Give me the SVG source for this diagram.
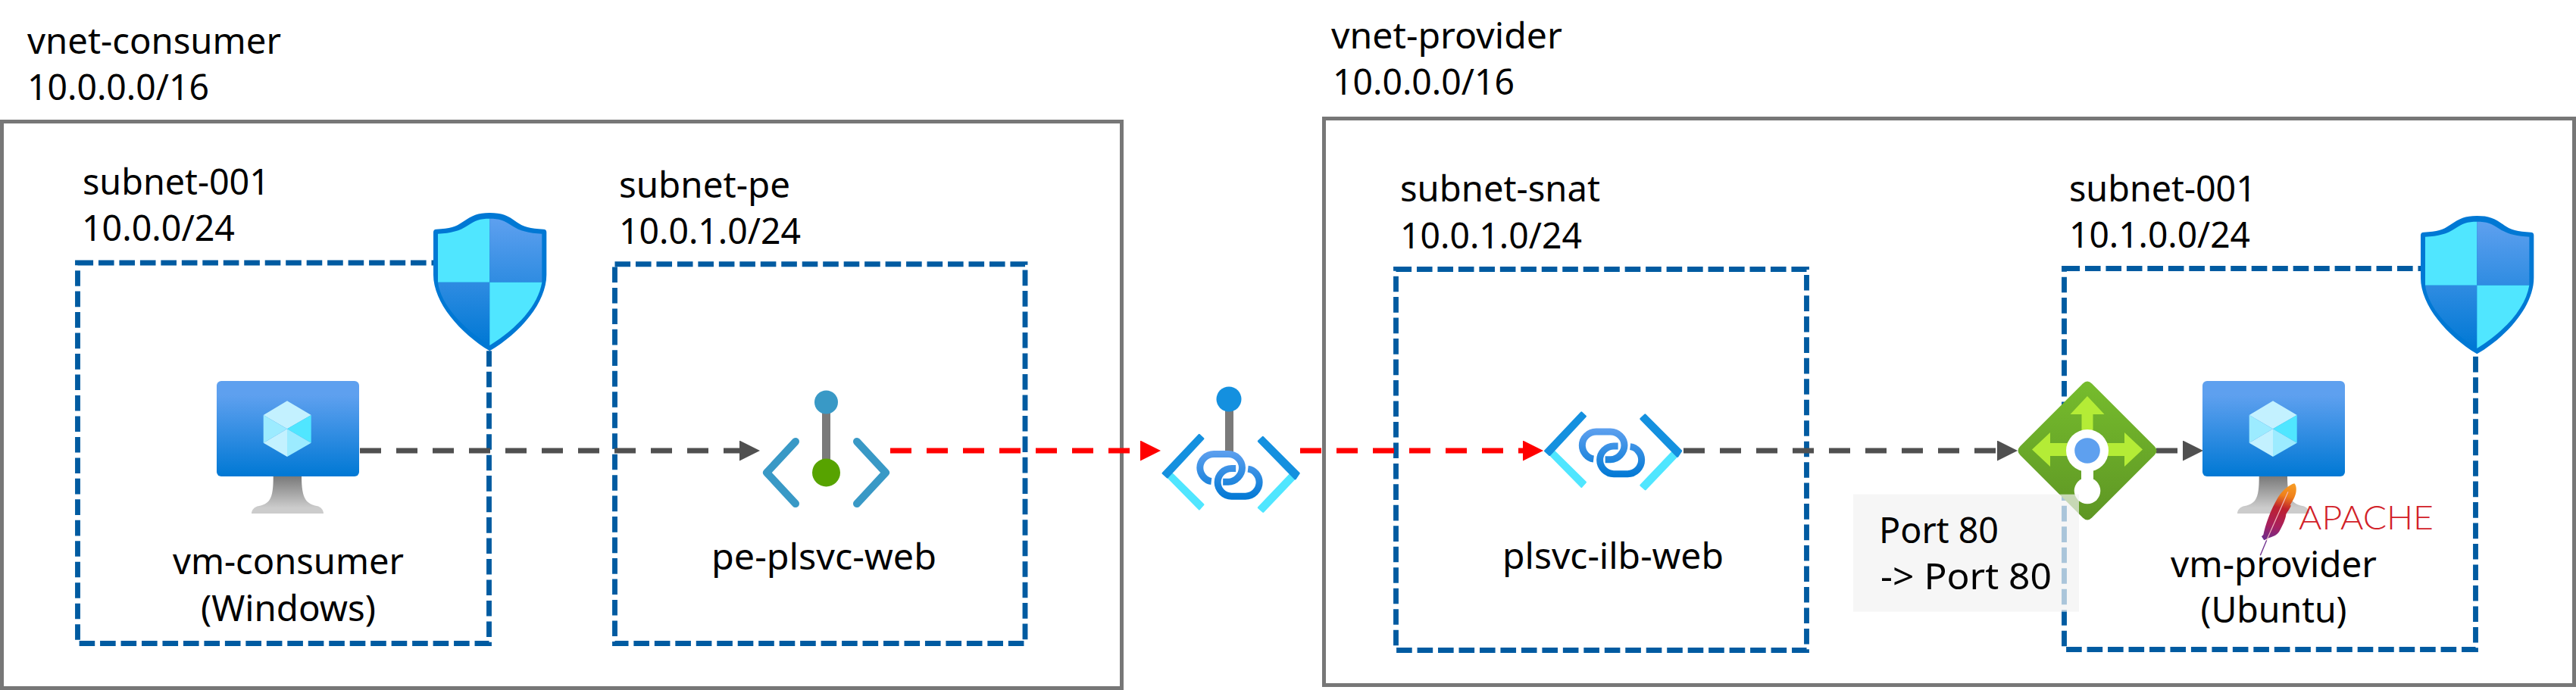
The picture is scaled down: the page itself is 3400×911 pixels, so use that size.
<svg xmlns="http://www.w3.org/2000/svg" width="3400" height="911" viewBox="0 0 3400 911">
<style>
text{font-family:"Noto Sans","Open Sans","Liberation Sans",sans-serif;font-size:47px;fill:#000}
.vnet{fill:none;stroke:#777;stroke-width:5}
.subnet{fill:none;stroke:#005ba1;stroke-width:6.87;stroke-dasharray:20.6 6.87}
.gray{fill:none;stroke:#505050;stroke-width:7;stroke-dasharray:28 20}
.red{fill:none;stroke:#f00;stroke-width:7;stroke-dasharray:28 20}
.apache{font-family:Lato,"Noto Sans",sans-serif;font-weight:300;font-size:44px;fill:#d22128}
</style>
<defs>
<marker id="hg" markerUnits="userSpaceOnUse" markerWidth="27" markerHeight="27" viewBox="0 0 27 27" refX="0" refY="13.5" orient="auto"><path d="M0 0L27 13.5L0 27Z" fill="#505050"/></marker>
<marker id="hr" markerUnits="userSpaceOnUse" markerWidth="27" markerHeight="27" viewBox="0 0 27 27" refX="0" refY="13.5" orient="auto"><path d="M0 0L27 13.5L0 27Z" fill="#f00"/></marker>
<linearGradient id="gScreen" x1="0" y1="0" x2="0" y2="1"><stop offset="0.15" stop-color="#5ea0ef"/><stop offset="1" stop-color="#0078d4"/></linearGradient>
<linearGradient id="gStand" x1="0" y1="0" x2="0" y2="1"><stop offset="0" stop-color="#7a7a7a"/><stop offset="0.85" stop-color="#cccccc"/></linearGradient>
<linearGradient id="gShield" gradientUnits="userSpaceOnUse" x1="0" y1="518" x2="0" y2="1020"><stop offset="0" stop-color="#5ea0ef"/><stop offset="1" stop-color="#0078d4"/></linearGradient>
<linearGradient id="gChain" gradientUnits="userSpaceOnUse" x1="0" y1="257" x2="0" y2="450"><stop offset="0" stop-color="#5ea0ef"/><stop offset="1" stop-color="#0078d4"/></linearGradient>
<linearGradient id="gLb" x1="0" y1="0" x2="0" y2="1"><stop offset="0" stop-color="#76bc2d"/><stop offset="1" stop-color="#5e9624"/></linearGradient>
<linearGradient id="gFeather" gradientUnits="userSpaceOnUse" x1="340" y1="535" x2="290" y2="760"><stop offset="0" stop-color="#f69923"/><stop offset="0.2" stop-color="#ef7f1a"/><stop offset="0.42" stop-color="#be202e"/><stop offset="0.75" stop-color="#a8205f"/><stop offset="1" stop-color="#6d2d8c"/></linearGradient>
<g id="vmIcon">
<path d="M74.7 126H112C112 157 119 162 132 165C138 166 141 171 141 175H46C46 171 49 166 56 165C69 162 75 157 74.7 126Z" fill="url(#gStand)"/>
<rect x="0" y="0" width="188" height="126" rx="6" fill="url(#gScreen)"/>
<path d="M93 26.3L124.7 45L93 63.3L61.7 45Z" fill="#c3f1ff"/>
<path d="M93 63.3L124.7 45V81.7Z" fill="#50e6ff"/>
<path d="M93 63.3L61.7 45V81.7Z" fill="#9cebff"/>
<path d="M93 63.3L61.7 81.7L93 100Z" fill="#c3f1ff"/>
<path d="M93 63.3L124.7 81.7L93 100Z" fill="#9cebff"/>
</g>
<g id="shieldIcon">
<path d="M135 572Q135 560 147 560C200 558 225 550 250 532C290 505 310 495 358 495C406 495 430 505 465 532C490 550 520 558 571 560Q583 560 583 572L583 740C583 850 480 970 358 1042C240 970 135 850 135 740Z" fill="#0078d4"/>
<path d="M153 770L153 578C205 576 240 566 270 546C300 525 320 518 358 518L358 770Z" fill="#50e6ff"/>
<path d="M565 770L565 578C513 576 476 566 446 546C416 525 396 518 358 518L358 770Z" fill="url(#gShield)"/>
<path d="M153 770L358 770L358 1020C250 950 165 860 153 770Z" fill="url(#gShield)"/>
<path d="M358 770L565 770C550 860 470 950 358 1020Z" fill="#50e6ff"/>
</g>
<g id="plsIcon">
<path d="M258 362L274 348L398 470L382 488Z M745 348L762 365L635 498L617 482Z" fill="#50e6ff" stroke="#50e6ff" stroke-width="8" stroke-linejoin="round"/>
<path d="M238 346L382 194L398 209L256 362Z M777 346L634 203L617 219L762 368Z" fill="#1490df" stroke="#1490df" stroke-width="8" stroke-linejoin="round"/>
<path d="M430 378C405 375 385 350 385 324C385 295 410 270 440 270L497 270C527 270 552 295 552 324C552 352 527 380 497 380L476 380" fill="none" stroke="url(#gChain)" stroke-width="27"/>
<path d="M575 329C600 332 620 355 620 382C620 412 595 437 565 437L510 437C480 437 455 412 455 382C455 352 480 327 510 327L527 327" fill="none" stroke="url(#gChain)" stroke-width="27"/>
</g>
</defs>

<rect width="3400" height="911" fill="#fff"/>

<g id="vnet-consumer">
<rect class="vnet" x="2.5" y="160.5" width="1478" height="748"/>
<text x="36" y="71" textLength="335" lengthAdjust="spacingAndGlyphs">vnet-consumer</text>
<text x="36" y="132" textLength="240" lengthAdjust="spacingAndGlyphs">10.0.0.0/16</text>
</g>
<g id="vnet-provider">
<rect class="vnet" x="1747.5" y="156.5" width="1650" height="748"/>
<text x="1757" y="64" textLength="305" lengthAdjust="spacingAndGlyphs">vnet-provider</text>
<text x="1759" y="125" textLength="240" lengthAdjust="spacingAndGlyphs">10.0.0.0/16</text>
</g>
<g id="subnet-001-consumer">
<path class="subnet" d="M102.5 347H645.5V849.5H102.5Z"/>
<text x="109" y="257" textLength="247" lengthAdjust="spacingAndGlyphs">subnet-001</text>
<text x="108" y="318" textLength="202" lengthAdjust="spacingAndGlyphs">10.0.0/24</text>
</g>
<g id="subnet-pe">
<path class="subnet" d="M811.5 348.7H1353V849.5H811.5Z"/>
<text x="817" y="261" textLength="226" lengthAdjust="spacingAndGlyphs">subnet-pe</text>
<text x="817" y="322" textLength="240" lengthAdjust="spacingAndGlyphs">10.0.1.0/24</text>
</g>
<g id="subnet-snat">
<path class="subnet" d="M1842.5 355.5H2384.5V858.5H1842.5Z"/>
<text x="1848" y="266" textLength="264" lengthAdjust="spacingAndGlyphs">subnet-snat</text>
<text x="1848" y="328" textLength="240" lengthAdjust="spacingAndGlyphs">10.0.1.0/24</text>
</g>
<g id="subnet-001-provider">
<path class="subnet" d="M2724.5 354.5H3267.5V857.5H2724.5Z"/>
<text x="2731" y="266" textLength="247" lengthAdjust="spacingAndGlyphs">subnet-001</text>
<text x="2731" y="327" textLength="239" lengthAdjust="spacingAndGlyphs">10.1.0.0/24</text>
</g>

<g id="connectors">
<path class="gray" d="M475 595H976" marker-end="url(#hg)"/>
<path class="red" d="M1175 595H1505" marker-end="url(#hr)"/>
<path class="red" d="M1716 595H2010" marker-end="url(#hr)"/>
<path class="gray" d="M2222 595H2636" marker-end="url(#hg)"/>
<path class="gray" d="M2846 595H2881" marker-end="url(#hg)"/>
</g>

<g id="nsg-consumer"><use href="#shieldIcon" transform="translate(527 116) scale(.3333)"/></g>
<g id="nsg-provider"><use href="#shieldIcon" transform="translate(3150 120) scale(.3333)"/></g>

<g id="vm-consumer">
<use href="#vmIcon" transform="translate(286 503)"/>
<text x="380.5" y="758" text-anchor="middle" textLength="305" lengthAdjust="spacingAndGlyphs">vm-consumer</text>
<text x="380.5" y="820" text-anchor="middle" textLength="231" lengthAdjust="spacingAndGlyphs">(Windows)</text>
</g>

<g id="pe-plsvc-web">
<rect x="1085" y="531" width="11" height="93" fill="#7a7a7a"/>
<circle cx="1090.5" cy="531" r="15.5" fill="#3999c6"/>
<circle cx="1090.5" cy="624" r="18.5" fill="#57a300"/>
<path d="M1050 583L1012 624L1050 665M1131 583L1169 624L1131 665" fill="none" stroke="#3999c6" stroke-width="10" stroke-linecap="round" stroke-linejoin="round"/>
<text x="1087.5" y="752" text-anchor="middle" textLength="297" lengthAdjust="spacingAndGlyphs">pe-plsvc-web</text>
</g>

<g id="private-link">
<rect x="1617" y="527" width="11" height="75" fill="#7a7a7a"/>
<circle cx="1622" cy="527" r="16.5" fill="#1490df"/>
<use href="#plsIcon" transform="translate(1455.5 509.5) scale(.3333)"/>
</g>

<g id="plsvc-ilb-web">
<use href="#plsIcon" transform="translate(1960 480) scale(.3333)"/>
<text x="2129" y="751" text-anchor="middle" textLength="292" lengthAdjust="spacingAndGlyphs">plsvc-ilb-web</text>
</g>

<g id="load-balancer" transform="translate(2755 595)">
<path d="M-6 -88.5Q0 -94.5 6 -88.5L88.5 -6Q94.5 0 88.5 6L6 88.5Q0 94.5 -6 88.5L-88.5 6Q-94.5 0 -88.5 -6Z" fill="url(#gLb)"/>
<path d="M0 -72L22.5 -48H7.5V-20H-7.5V-48H-22.5Z" fill="#b4ec36"/>
<path d="M-73 -1.5L-49 -24V-10H-20V7H-49V21Z" fill="#b4ec36"/>
<path d="M73 -1.5L49 -24V-10H20V7H49V21Z" fill="#b4ec36"/>
<rect x="-8" y="0" width="16" height="50" fill="#fff"/>
<circle cx="0" cy="0" r="28" fill="#fff"/>
<circle cx="0" cy="53" r="17.3" fill="#fff"/>
<circle cx="0" cy="0" r="16.8" fill="#5ea0ef"/>
</g>

<g id="vm-provider">
<use href="#vmIcon" transform="translate(2907 503)"/>
<g id="apache-logo" transform="translate(2900 460) scale(.3333)">
<path d="M385 535C395 545 395 570 385 590C378 605 372 612 368 622L372 622C365 640 355 650 352 658C350 675 340 700 325 725C315 740 300 745 285 750L265 760L255 745L262 738C270 700 290 640 320 590C340 560 365 540 385 535Z" fill="url(#gFeather)"/>
<path d="M250 820L275 760" stroke="#6d2d8c" stroke-width="4" fill="none"/>
<path d="M275 760L360 568" stroke="#f3b9c0" stroke-width="3.5" fill="none"/>
</g>
<text class="apache" x="3034" y="698.7" textLength="178" lengthAdjust="spacingAndGlyphs">APACHE</text>
<text x="3001" y="762" text-anchor="middle" textLength="272" lengthAdjust="spacingAndGlyphs">vm-provider</text>
<text x="3001" y="822" text-anchor="middle" textLength="193" lengthAdjust="spacingAndGlyphs">(Ubuntu)</text>
</g>

<g id="port-label">
<rect x="2446" y="652.7" width="298" height="155" fill="#f2f2f2" fill-opacity="0.7"/>
<text x="2480" y="717" textLength="158" lengthAdjust="spacingAndGlyphs">Port 80</text>
<text x="2482" y="778" textLength="226" lengthAdjust="spacingAndGlyphs">-&gt; Port 80</text>
</g>
</svg>
